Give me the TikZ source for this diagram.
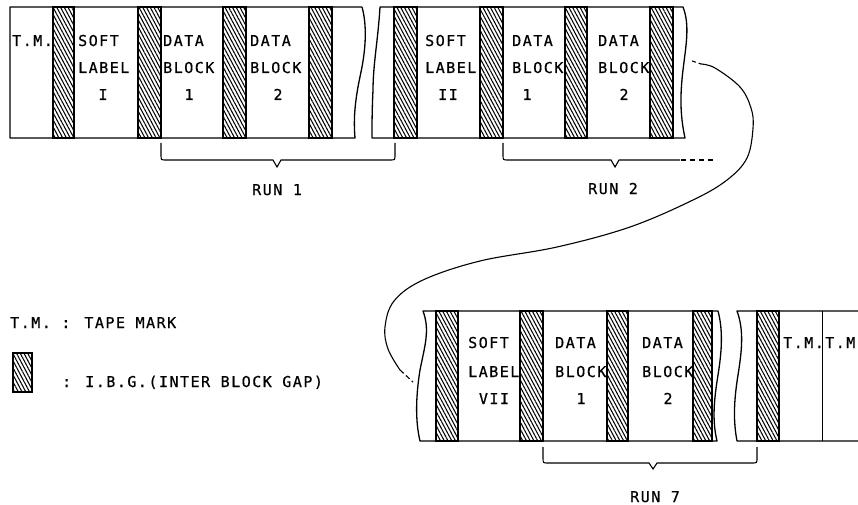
\documentclass[tikz,border=0pt]{standalone}
\usepackage{fontspec}
\newfontfamily\tapefont[LetterSpace=10,FakeBold=0.6]{DejaVu Sans Mono}
\usetikzlibrary{patterns.meta}
\begin{document}
\begin{tikzpicture}[x=1pt,y=-1pt,
  tape/.style={line width=1.3pt, line join=round},
  ibg/.style={draw, line width=1.2pt, pattern={Lines[angle=-62,distance=3.3pt,line width=1.05pt]}},
  txt/.style={inner sep=0pt, anchor=base west, font=\tapefont\fontsize{15}{18}\selectfont},
  ctxt/.style={txt, anchor=base},
  brace/.style={line width=1.1pt},
  link/.style={line width=1.1pt}]
\useasboundingbox (0,0) rectangle (858,505);

% ---------- tape 1, segment A ----------
\draw[tape] (362,7) -- (10,7) -- (10,138) -- (355,138)
  .. controls (353,115) and (356,95) .. (361,72)
  .. controls (366,48) and (367,25) .. (362,7);
% ---------- tape 1, segment B ----------
\draw[tape] (380,7) .. controls (378,40) and (373,65) .. (373,90)
  .. controls (372,110) and (372,125) .. (372,138) -- (685,138)
  .. controls (680,115) and (680,95) .. (683,70)
  .. controls (686,45) and (690,25) .. (683,7) -- cycle;

\foreach \a/\b in {53/74,138/161,223/246,309/332,394/417,480/503,565/587,650/673}
  \draw[ibg] (\a,7) rectangle (\b,138);

% ---------- tape 2, segment A ----------
\draw[tape] (423,311) .. controls (430,330) and (425,345) .. (420,370)
  .. controls (416,395) and (415,420) .. (420,441) -- (717,441)
  .. controls (712,420) and (714,400) .. (718,375)
  .. controls (722,350) and (723,330) .. (718,311) -- cycle;
% ---------- tape 2, segment B ----------
\draw[tape] (858,311) -- (737,311) .. controls (744,330) and (742,350) .. (738,375)
  .. controls (734,400) and (733,420) .. (737,441) -- (858,441);
\draw[line width=0.9pt] (822,311) -- (822,441);

\foreach \a/\b in {436/458,520/543,607/628,693/712,757/779}
  \draw[ibg] (\a,311) rectangle (\b,441);

% ---------- texts, tape 1 ----------
\node[txt] (tm1) at (12,46) {T.M.};
\node[txt] (sl1a) at (78,46) {SOFT};
\node[txt] (sl1b) at (78,73) {LABEL};
\node[ctxt] (sl1c) at (103,100) {I};
\node[txt] (d11a) at (163,46) {DATA};
\node[txt] (d11b) at (163,73) {BLOCK};
\node[ctxt] (d11c) at (189,100) {1};
\node[txt] (d12a) at (250,46) {DATA};
\node[txt] (d12b) at (250,73) {BLOCK};
\node[ctxt] (d12c) at (278,100) {2};
\node[txt] (sl2a) at (425,46) {SOFT};
\node[txt] (sl2b) at (425,73) {LABEL};
\node[ctxt] (sl2c) at (448,100) {II};
\node[txt] (d21a) at (512,46) {DATA};
\node[txt] (d21b) at (512,73) {BLOCK};
\node[ctxt] (d21c) at (527,100) {1};
\node[txt] (d22a) at (598,46) {DATA};
\node[txt] (d22b) at (598,73) {BLOCK};
\node[ctxt] (d22c) at (624,100) {2};

% ---------- texts, tape 2 ----------
\node[txt] (sl7a) at (468,348) {SOFT};
\node[txt] (sl7b) at (468,377) {LABEL};
\node[ctxt] (sl7c) at (494,404) {VII};
\node[txt] (d71a) at (555,348) {DATA};
\node[txt] (d71b) at (555,377) {BLOCK};
\node[ctxt] (d71c) at (581,404) {1};
\node[txt] (d72a) at (642,348) {DATA};
\node[txt] (d72b) at (642,377) {BLOCK};
\node[ctxt] (d72c) at (668,404) {2};
\node[txt] (tm2) at (783,348) {T.M.};
\node[txt] (tm3) at (825,348) {T.M};

% ---------- braces ----------
\draw[brace] (161,143) -- (161,155) .. controls (161,160) .. (166,160) -- (273,160)
  -- (277,167) -- (281,160) -- (390,160) .. controls (395,160) .. (395,155) -- (395,143);
\node[txt] (run1) at (252,195) {RUN 1};
\draw[brace] (503,143) -- (503,155) .. controls (503,160) .. (508,160) -- (611,160)
  -- (615,167) -- (619,160) -- (680,160);
\draw[brace, dash pattern=on 5pt off 4pt] (681,160) -- (713,160);
\node[txt] (run2) at (588,194) {RUN 2};
\draw[brace] (543,447) -- (543,458) .. controls (543,463) .. (548,463) -- (649,463)
  -- (653,469) -- (657,463) -- (752,463) .. controls (757,463) .. (757,458) -- (757,447);
\node[txt] (run7) at (630,502) {RUN 7};

% ---------- continuation link ----------
\coordinate (ls) at (692,61);
\coordinate (l1) at (701,64);
\coordinate (l2) at (400,370);
\coordinate (le) at (413,382);
\draw[link, dash pattern=on 4pt off 3pt] (ls) -- (l1);
\draw[link] plot[smooth, tension=0.6] coordinates {(l1) (715,68) (740,87) (751,108) (753,128) (747,158) (727,180) (693,200) (630,227) (557,247) (480,261) (423,280) (394,301) (385,327) (388,349) (l2)};
\draw[link, dash pattern=on 5pt off 3pt] (l2) -- (le);

% ---------- legend ----------
\node[txt] (leg1) at (10,328) {T.M. : TAPE MARK};
\draw[ibg, line width=1.5pt] (13,353) rectangle (32,392);
\node[txt] (leg2) at (62,387) {: I.B.G.(INTER BLOCK GAP)};
\end{tikzpicture}
\end{document}
